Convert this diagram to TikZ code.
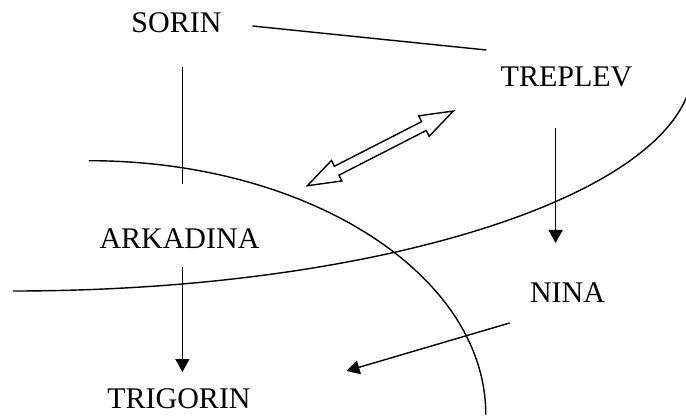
\documentclass[tikz,border=0pt]{standalone}
\usepackage{fontspec}
\setmainfont{Liberation Serif}
\usetikzlibrary{arrows.meta}
\begin{document}
\begin{tikzpicture}[x=1pt,y=-1pt,
  lbl/.style={anchor=base,inner sep=0pt,font=\fontsize{30}{36}\selectfont},
  ln/.style={line width=1.4pt},
  arr/.style={ln,-{Triangle[length=13pt,width=14pt]}}]
\clip (0,0) rectangle (686,417);
% labels
\node[lbl] (sorin) at (176.5,33) {SORIN};
\node[lbl] (treplev) at (566.5,87) {TREPLEV};
\node[lbl] (arkadina) at (179.5,248) {ARKADINA};
\node[lbl] (nina) at (567.5,302) {NINA};
\node[lbl] (trigorin) at (179,408) {TRIGORIN};
% connector end points
\coordinate (st1) at (252.4,26);
\coordinate (st2) at (486.4,50);
\coordinate (sv1) at (182.4,67);
\coordinate (sv2) at (182.4,184);
\coordinate (at1) at (182.4,267);
\coordinate (at2) at (182.4,372);
\coordinate (tn1) at (555.6,128);
\coordinate (tn2) at (555.6,243);
\coordinate (nx1) at (509.6,323);
\coordinate (nx2) at (346.5,371);
\coordinate (dbl) at (380.3,148.4);
% connectors
\draw[ln] (st1) -- (st2);
\draw[ln] (sv1) -- (sv2);
\draw[arr] (at1) -- (at2);
\draw[arr] (tn1) -- (tn2);
\draw[arr] (nx1) -- (nx2);
% double block arrow
\begin{scope}[shift={(dbl)},rotate=27.1]
\draw[ln,line join=miter] (-82,0) -- (-49,-11.5) -- (-49,-5) -- (49,-5) -- (49,-11.5)
  -- (82,0) -- (49,11.5) -- (49,5) -- (-49,5) -- (-49,11.5) -- cycle;
\end{scope}
% curves
\draw[ln] (88.8,160.7) arc[start angle=-90,end angle=0,x radius=397,y radius=254];
\draw[ln] (13,291) arc[start angle=90,end angle=0,x radius=680,y radius=225];
\end{tikzpicture}
\end{document}
